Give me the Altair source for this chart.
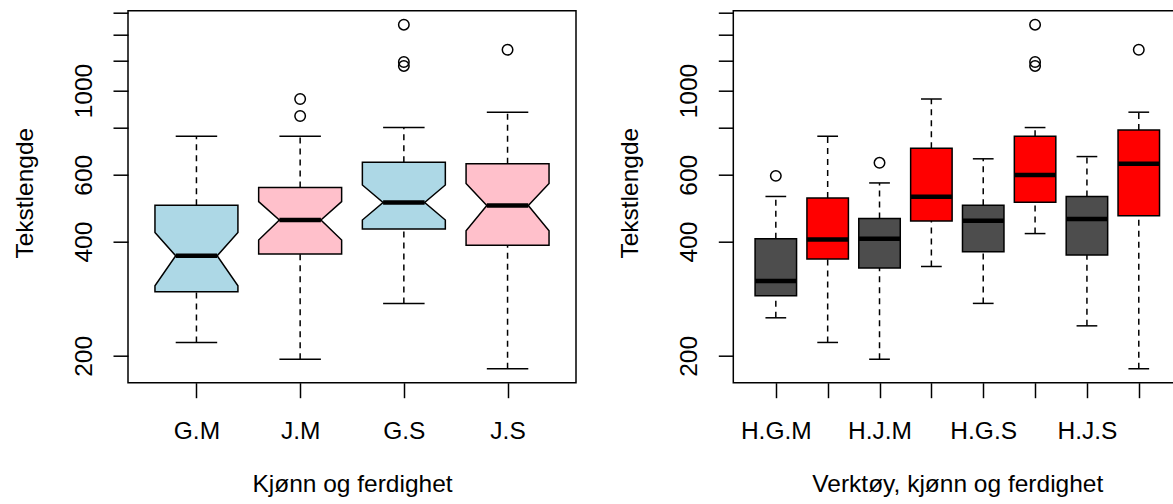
import altair as alt
import pandas as pd

FONT = "Liberation Sans"
FS = 24.5

# ---------------- data ----------------
left_groups = ["G.M", "J.M", "G.S", "J.S"]
left_fill = ["#ADD8E6", "#FFC0CB", "#ADD8E6", "#FFC0CB"]
left_low = [217, 196, 275, 185]
left_q1 = [295, 371, 432, 391]
left_notch_lo = [306, 404, 456, 427]
left_med = [367, 456, 507, 498]
left_notch_hi = [423, 510, 564, 569]
left_q3 = [499, 555, 647, 641]
left_high = [758, 758, 799, 877]
left_out_group = ["J.M", "J.M", "G.S", "G.S", "G.S", "J.S"]
left_out_value = [950, 857, 1491, 1189, 1161, 1281]

right_groups = ["H.G.M", "T.G.M", "H.J.M", "T.J.M", "H.G.S", "T.G.S", "H.J.S", "T.J.S"]
right_fill = ["#4D4D4D", "#FF0000"] * 4
right_low = [252, 217, 196, 344, 275, 420, 240, 185]
right_q1 = [288, 360, 341, 453, 376, 508, 369, 468]
right_med = [315, 405, 407, 525, 454, 599, 459, 641]
right_q3 = [407, 521, 460, 705, 499, 758, 526, 787]
right_high = [526, 758, 571, 950, 661, 799, 670, 877]
right_out_group = ["H.G.M", "H.J.M", "T.G.S", "T.G.S", "T.G.S", "T.J.S"]
right_out_value = [596, 645, 1491, 1189, 1161, 1281]

y_ticks = [200, 400, 600, 800, 1000, 1200, 1400, 1600]
y_labels_shown = [200, 400, 600, 1000]

# ---------------- layout constants ----------------
W_TOTAL = 1045
H = 372
LEFT_RANGE = [0, 448]
RIGHT_RANGE = [605.3, 1053.3]
LEFT_DOMAIN = [0.34, 4.66]
RIGHT_DOMAIN = [0.18, 8.82]
Y_DOMAIN = [170, 1623]
HW = 0.4      # half box width
CAP = 0.2     # half staple width
NOTCH = 0.2   # half width at median of notched box

TXT = dict(labelFont=FONT, titleFont=FONT, labelFontSize=FS, titleFontSize=FS,
           labelColor="black", titleColor="black", titleFontWeight="normal")


def yenc(field, offset=0):
    return alt.Y(
        f"{field}:Q",
        stack=None,
        scale=alt.Scale(type="log", domain=Y_DOMAIN, nice=False, zero=False),
        axis=alt.Axis(
            orient="left", offset=offset, values=y_ticks, format="d",
            labelExpr=f"indexof({y_labels_shown}, datum.value) >= 0 ? datum.label : ''",
            labelAngle=270, labelAlign="center", labelBaseline="alphabetic",
            labelPadding=21.5, labelOverlap=False, labelFlush=False,
            tickSize=15, tickWidth=1.5, tickColor="black", domain=False, grid=False,
            title="Tekstlengde", titleAngle=270, titleBaseline="alphabetic",
            titleAlign="center", titleX=-96, titleY=182, **TXT,
        ),
    )


def xenc(field, groups, domain, rng, title, every_other):
    if every_other:
        expr = f"datum.value % 2 == 1 ? {groups}[datum.value - 1] : ''"
    else:
        expr = f"{groups}[datum.value - 1]"
    return alt.X(
        f"{field}:Q",
        stack=None,
        scale=alt.Scale(domain=domain, range=rng, nice=False, zero=False),
        axis=alt.Axis(
            orient="bottom", values=list(range(1, len(groups) + 1)), labelExpr=expr,
            labelPadding=40.6, labelBaseline="alphabetic", labelFlush=False,
            labelOverlap=False, tickSize=15, tickWidth=1.5, tickColor="black",
            domain=False, grid=False, title=title, titleBaseline="alphabetic",
            titleAlign="center", titleY=109, titleX=(rng[0] + rng[1]) / 2, **TXT,
        ),
    )


def panel(groups, fills, low, q1, med, q3, high, out_g, out_v, domain, rng,
          title, every_other, notch_lo=None, notch_hi=None, yoffset=0):
    pos = {g: i + 1 for i, g in enumerate(groups)}
    X = lambda f: xenc(f, groups, domain, rng, title, every_other)
    color = alt.Color("group:N", scale=alt.Scale(domain=groups, range=fills), legend=None)

    stats = pd.DataFrame({"group": groups, "pos": [pos[g] for g in groups],
                          "low": low, "q1": q1, "med": med, "q3": q3, "high": high})
    stats["xl"] = stats["pos"] - HW
    stats["xr"] = stats["pos"] + HW
    stats["cl"] = stats["pos"] - CAP
    stats["cr"] = stats["pos"] + CAP
    mw = NOTCH if notch_lo is not None else HW
    stats["ml"] = stats["pos"] - mw
    stats["mr"] = stats["pos"] + mw

    whisk = pd.concat([
        pd.DataFrame({"pos": stats["pos"], "a": stats["q3"], "b": stats["high"]}),
        pd.DataFrame({"pos": stats["pos"], "a": stats["low"], "b": stats["q1"]}),
    ])
    caps = pd.concat([
        pd.DataFrame({"cl": stats["cl"], "cr": stats["cr"], "v": stats["high"]}),
        pd.DataFrame({"cl": stats["cl"], "cr": stats["cr"], "v": stats["low"]}),
    ])

    layers = []
    layers.append(alt.Chart(whisk).mark_rule(color="black", strokeWidth=1.5,
                                             strokeDash=[6, 5]).encode(
        x=X("pos"), y=yenc("a", yoffset), y2="b"))

    if notch_lo is not None:
        # notched box = lower half + upper half, each a ranged area along x
        rows = []
        for i, g in enumerate(groups):
            p = pos[g]
            xs = [p - HW, p - NOTCH, p + NOTCH, p + HW]
            lo_top = [notch_lo[i], med[i], med[i], notch_lo[i]]
            hi_bot = [notch_hi[i], med[i], med[i], notch_hi[i]]
            for k in range(4):
                rows.append({"group": g, "part": g + "-lo", "xx": xs[k],
                             "ya": q1[i], "yb": lo_top[k]})
            for k in range(4):
                rows.append({"group": g, "part": g + "-hi", "xx": xs[k],
                             "ya": hi_bot[k], "yb": q3[i]})
        poly = pd.DataFrame(rows)
        layers.append(alt.Chart(poly).mark_area(stroke="black", strokeWidth=1.5,
                                                opacity=1, fillOpacity=1,
                                                interpolate="linear").encode(
            x=X("xx"), y=yenc("ya", yoffset), y2="yb",
            color=color, detail="part:N"))
    else:
        layers.append(alt.Chart(stats).mark_rect(stroke="black", strokeWidth=1.5).encode(
            x=X("xl"), x2="xr", y=yenc("q1", yoffset), y2="q3", color=color))

    layers.append(alt.Chart(stats).mark_rule(color="black", strokeWidth=4.5).encode(
        x=X("ml"), x2="mr", y=yenc("med", yoffset)))
    layers.append(alt.Chart(caps).mark_rule(color="black", strokeWidth=1.5).encode(
        x=X("cl"), x2="cr", y=yenc("v", yoffset)))

    outs = pd.DataFrame({"pos": [pos[g] for g in out_g], "v": out_v})
    layers.append(alt.Chart(outs).mark_point(shape="circle", filled=False, size=110,
                                             color="black", strokeWidth=1.5, opacity=1).encode(
        x=X("pos"), y=yenc("v", yoffset)))

    frame = pd.DataFrame({"f": [0]})
    layers.append(alt.Chart(frame).mark_rect(fill=None, stroke="black", strokeWidth=1.5).encode(
        x=alt.value(rng[0]), x2=alt.value(rng[1]), y=alt.value(0), y2=alt.value(H)))

    return alt.layer(*layers)


left = panel(left_groups, left_fill, left_low, left_q1, left_med, left_q3, left_high,
             left_out_group, left_out_value, LEFT_DOMAIN, LEFT_RANGE,
             "Kjønn og ferdighet", False, left_notch_lo, left_notch_hi, 0)
right = panel(right_groups, right_fill, right_low, right_q1, right_med, right_q3, right_high,
              right_out_group, right_out_value, RIGHT_DOMAIN, RIGHT_RANGE,
              "Verktøy, kjønn og ferdighet", True, None, None, -RIGHT_RANGE[0])

chart = alt.layer(left, right).resolve_scale(
    x="independent", y="independent", color="independent"
).resolve_axis(
    x="independent", y="independent"
).properties(
    width=W_TOTAL, height=H,
    autosize=alt.AutoSizeParams(type="none"),
    padding={"left": 128, "top": 10.7, "right": 0, "bottom": 121.3},
).configure(background="white").configure_view(stroke=None)

chart.save("out.html", embed_options={"renderer": "svg", "actions": False})
